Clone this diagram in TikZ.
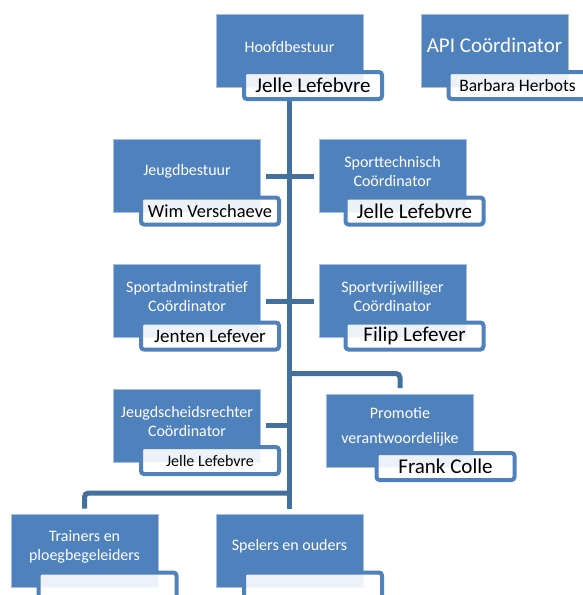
\documentclass[tikz,border=0pt]{standalone}
\usepackage{fontspec}
\setmainfont{Carlito}
\usetikzlibrary{backgrounds}
\definecolor{boxblue}{HTML}{4F81BD}
\definecolor{connblue}{HTML}{41719C}
\definecolor{edgeblue}{HTML}{A7BFDE}
\begin{document}
\begin{tikzpicture}[x=1pt,y=-1pt,
  orgbox/.style={fill=boxblue, draw=edgeblue, line width=0.8pt, minimum width=147pt, minimum height=73pt, inner sep=0pt, outer sep=0pt},
  namebox/.style={fill=white, fill opacity=0.9, text opacity=1, draw=boxblue, line width=4pt, rounded corners=3pt, minimum width=138pt, minimum height=27pt, inner sep=0pt, outer sep=0pt, text=black},
  lbl/.style={text=white, align=center, font=\fontsize{16}{19}\selectfont, inner sep=0pt},
  conn/.style={draw=connblue, line width=5pt},
]
\useasboundingbox (0,0) rectangle (583,595);
\clip (0,0) rectangle (583,595);

% Hoofdbestuur
\node[orgbox] (hb) at (289.5,51) {};
\node[lbl] (hbt) at (289.5,46.5) {Hoofdbestuur};
\node[namebox, font=\fontsize{21}{24}\selectfont] (hbn) at (313,85.5) {Jelle Lefebvre};

% API
\node[orgbox] (api) at (494.5,51) {};
\node[lbl, font=\fontsize{21}{24}\selectfont] (apit) at (494.5,45) {API Coördinator};
\node[namebox, font=\fontsize{17.5}{20}\selectfont] (apin) at (517.5,85.5) {Barbara Herbots};

% Jeugdbestuur
\node[orgbox] (jb) at (187,176) {};
\node[lbl] (jbt) at (187,171.5) {Jeugdbestuur};
\node[namebox, font=\fontsize{18.4}{21}\selectfont] (jbn) at (210,211) {Wim Verschaeve};

% Sporttechnisch
\node[orgbox] (st) at (392.5,176) {};
\node[lbl] (stt) at (392.5,171.5) {Sporttechnisch\\Coördinator};
\node[namebox, font=\fontsize{21}{24}\selectfont] (stn) at (414.5,211) {Jelle Lefebvre};

% Sportadminstratief
\node[orgbox] (sa) at (187,301) {};
\node[lbl] (sat) at (187,296.5) {Sportadminstratief\\Coördinator};
\node[namebox, font=\fontsize{19}{22}\selectfont] (san) at (210,336) {Jenten Lefever};

% Sportvrijwilliger
\node[orgbox] (sv) at (392.5,301) {};
\node[lbl] (svt) at (392.5,296.5) {Sportvrijwilliger\\Coördinator};
\node[namebox, font=\fontsize{21}{24}\selectfont] (svn) at (414.5,336) {Filip Lefever};

% Jeugdscheidsrechter
\node[orgbox] (js) at (187,425.5) {};
\node[lbl] (jst) at (187,421.5) {Jeugdscheidsrechter\\Coördinator};
\node[namebox, font=\fontsize{16}{19}\selectfont] (jsn) at (210,460.5) {Jelle Lefebvre};

% Promotie
\node[orgbox] (pr) at (400,430.5) {};
\node[lbl, font=\fontsize{16}{25}\selectfont] (prt) at (400,426.5) {Promotie\\verantwoordelijke};
\node[namebox, font=\fontsize{21}{24}\selectfont] (prn) at (445.5,466.5) {Frank Colle};

% Trainers
\node[orgbox] (tr) at (84.5,551) {};
\node[lbl] (trt) at (84.5,546.5) {Trainers en\\ploegbegeleiders};
\node[namebox] (trn) at (107.5,586) {};

% Spelers
\node[orgbox] (sp) at (289.5,551) {};
\node[lbl] (spt) at (289.5,546.5) {Spelers en ouders};
\node[namebox] (spn) at (313,586) {};

\coordinate (pj) at (290,373.5);
\coordinate (tj) at (290,493);

\begin{scope}[on background layer]
  \draw[conn, shorten >=6pt] (hb.south |- hbn.south) -- (sp.north);
  \draw[conn, shorten <=5pt] (jb.east) -- (jb.east -| hb.south);
  \draw[conn, shorten >=5pt] (st.west -| hb.south) -- (st.west);
  \draw[conn, shorten <=5pt] (sa.east) -- (sa.east -| hb.south);
  \draw[conn, shorten >=5pt] (sv.west -| hb.south) -- (sv.west);
  \draw[conn, shorten <=5pt] (js.east) -- (js.east -| hb.south);
  \draw[conn, rounded corners=4pt, shorten >=6pt] (pj) -| (pr.north);
  \draw[conn, rounded corners=4pt, shorten >=6pt] (tj) -| (tr.north);
\end{scope}
\end{tikzpicture}
\end{document}
